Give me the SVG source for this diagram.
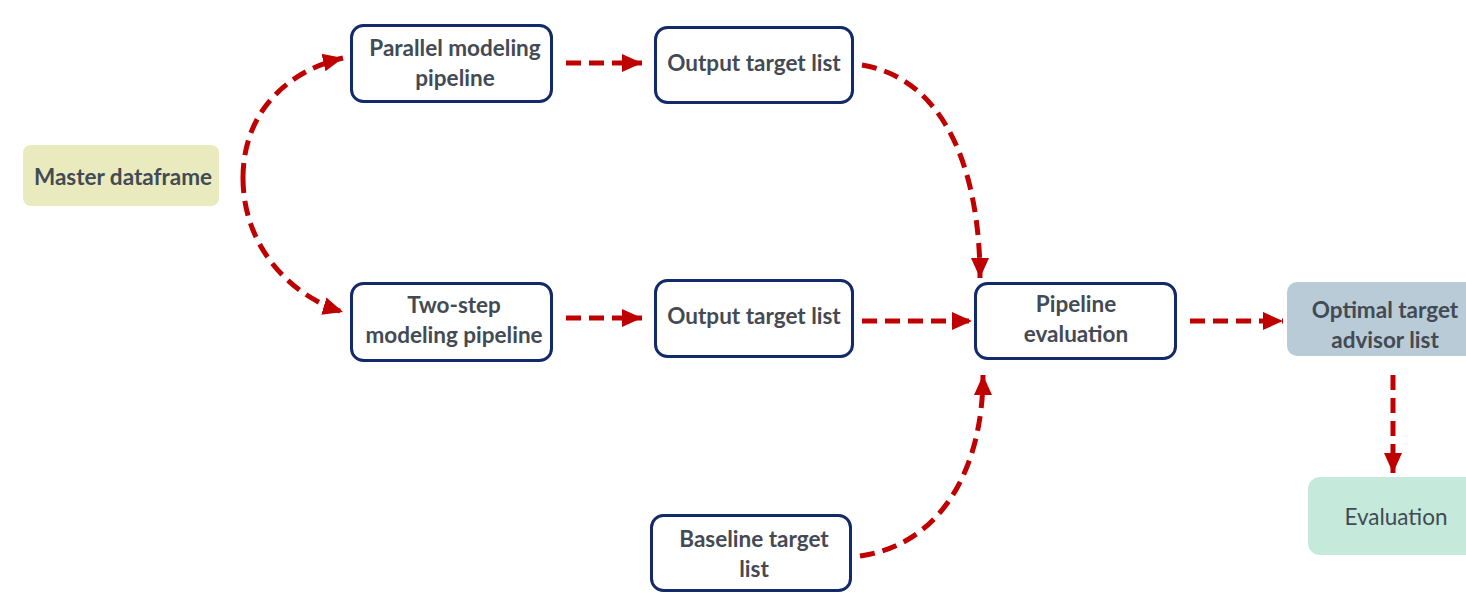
<svg xmlns="http://www.w3.org/2000/svg" width="1466" height="595" viewBox="0 0 1466 595">
<style>
.box{fill:#fff;stroke:#12296a;stroke-width:3}
.t{font-family:Lato,"Open Sans",sans-serif;font-weight:bold;font-size:22.5px;fill:#434a54;text-anchor:middle}
.n{font-family:Lato,"Open Sans",sans-serif;font-size:22.5px;fill:#434a54;text-anchor:middle}
.c{fill:none;stroke:#c00000;stroke-width:5;stroke-dasharray:15 8}
</style>
<defs>
<marker id="ah" markerUnits="userSpaceOnUse" markerWidth="22" markerHeight="20" refX="20" refY="10" orient="auto">
<path d="M0,1 L20,10 L0,19 Z" fill="#c00000"/>
</marker>
</defs>
<g id="connectors">
<path class="c" d="M243 178 C243 110 290 70 343 58" marker-end="url(#ah)"/>
<path class="c" d="M243 178 C243 246 290 296 343 312" marker-end="url(#ah)"/>
<path class="c" d="M566 63 L642 63" marker-end="url(#ah)"/>
<path class="c" d="M566 318 L642 318" marker-end="url(#ah)"/>
<path class="c" d="M862 65 C950 80 980 180 980 278" marker-end="url(#ah)"/>
<path class="c" d="M862 321 L972 321" marker-end="url(#ah)"/>
<path class="c" d="M860 556 C940 545 983 470 983 375" marker-end="url(#ah)"/>
<path class="c" d="M1190 321 L1283 321" marker-end="url(#ah)"/>
<path class="c" d="M1393 375 L1393 473" marker-end="url(#ah)"/>
</g>
<g id="master">
<rect x="23" y="145" width="196" height="61" rx="8" fill="#e9ebbf"/>
<text class="t" x="123" y="185">Master dataframe</text>
</g>
<g id="parallel">
<rect class="box" x="351.5" y="25.5" width="200" height="76" rx="12"/>
<text class="t" x="455" y="56">Parallel modeling</text>
<text class="t" x="455" y="86">pipeline</text>
</g>
<g id="output1">
<rect class="box" x="655.5" y="27.5" width="197" height="75" rx="12"/>
<text class="t" x="754" y="71">Output target list</text>
</g>
<g id="twostep">
<rect class="box" x="351.5" y="283.5" width="200" height="77" rx="12"/>
<text class="t" x="454" y="313">Two-step</text>
<text class="t" x="454" y="343">modeling pipeline</text>
</g>
<g id="output2">
<rect class="box" x="655.5" y="280.5" width="197" height="76" rx="12"/>
<text class="t" x="754" y="324">Output target list</text>
</g>
<g id="pipelineeval">
<rect class="box" x="975.5" y="283.5" width="200" height="75" rx="12"/>
<text class="t" x="1076" y="312">Pipeline</text>
<text class="t" x="1076" y="342">evaluation</text>
</g>
<g id="optimal">
<rect x="1287" y="282" width="195" height="74" rx="10" fill="#b9cbd6"/>
<text class="t" x="1385" y="318">Optimal target</text>
<text class="t" x="1385" y="348">advisor list</text>
</g>
<g id="evaluation">
<rect x="1308" y="477" width="175" height="78" rx="12" fill="#c5eadb"/>
<text class="n" x="1396" y="525">Evaluation</text>
</g>
<g id="baseline">
<rect class="box" x="651.5" y="515.5" width="199" height="75" rx="12"/>
<text class="t" x="754" y="547">Baseline target</text>
<text class="t" x="754" y="577">list</text>
</g>
</svg>
